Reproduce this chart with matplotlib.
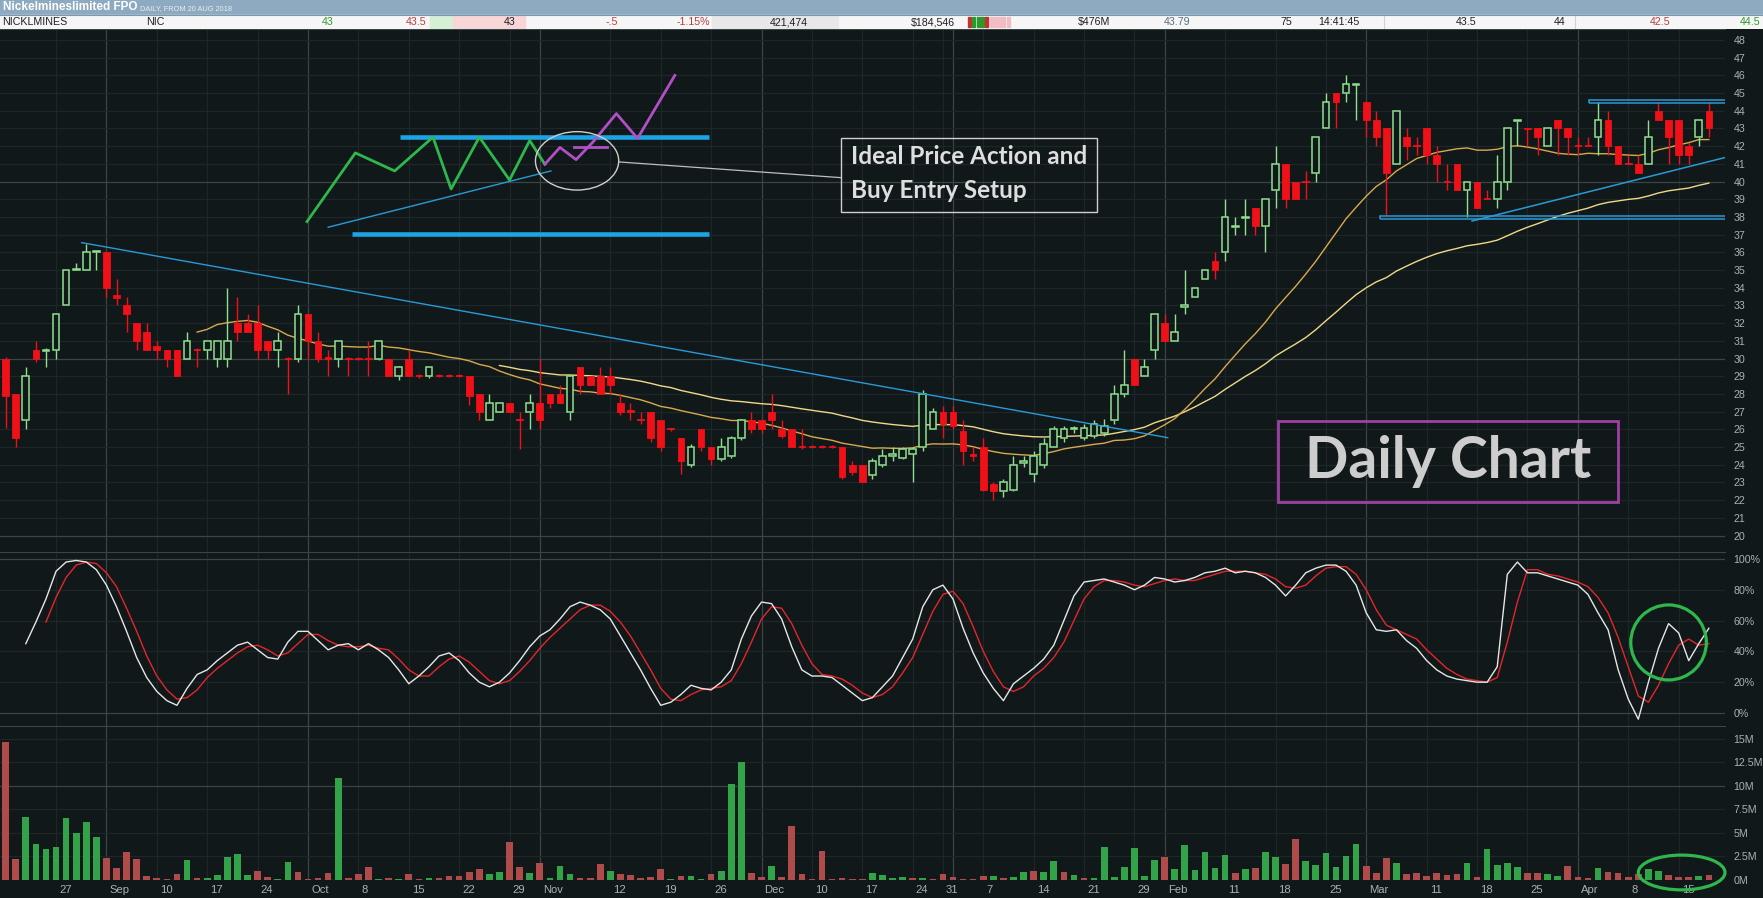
import numpy as np
import pandas as pd
import matplotlib
matplotlib.use('Agg')
import matplotlib.pyplot as plt
from matplotlib.patches import Rectangle, Ellipse
from matplotlib import font_manager

# ---- data ----
holidays = ['2018-12-25', '2018-12-26', '2019-01-01', '2019-01-28']
dates = pd.bdate_range('2018-08-20', '2019-04-18', freq='C', holidays=holidays)

opens = [30.0, 28.0, 26.5, 30.5, 30.4, 30.5, 33.0, 35.0, 35.0, 36.0,
         36.0, 33.6, 33.0, 32.0, 31.5, 30.7, 30.5, 30.5, 30.0, 30.55,
         30.5, 30.0, 30.0, 32.0, 32.0, 32.0, 31.0, 30.5, 30.05, 30.0,
         32.5, 31.0, 30.1, 30.0, 30.05, 30.05, 30.05, 30.0, 30.0, 29.0,
         30.0, 29.05, 29.0, 29.05, 29.05, 29.05, 29.0, 28.0, 26.5, 27.0,
         27.5, 26.6, 27.0, 27.5, 28.0, 28.0, 27.0, 29.5, 29.0, 29.0,
         29.0, 27.5, 27.1, 26.6, 27.0, 26.5, 26.05, 25.5, 24.0, 26.0,
         25.0, 24.3, 24.5, 25.5, 26.5, 26.5, 27.0, 26.0, 26.0, 25.05,
         25.05, 25.05, 25.05, 25.0, 24.0, 24.0, 23.4, 24.0, 24.5, 24.4,
         24.6, 25.0, 26.0, 27.0, 27.0, 25.9, 24.6, 25.0, 22.9, 22.5,
         22.6, 24.1, 23.5, 24.0, 25.0, 25.5, 26.0, 25.5, 25.6, 25.8,
         26.5, 28.0, 30.0, 29.0, 30.5, 32.0, 31.0, 32.9, 33.5, 34.5,
         35.5, 36.0, 37.45, 37.95, 38.5, 37.5, 39.5, 41.0, 40.0, 40.05,
         40.5, 43.0, 45.0, 45.0, 45.45, 44.5, 43.5, 43.0, 41.0, 42.5,
         42.05, 43.0, 41.5, 40.05, 41.0, 39.5, 40.0, 39.05, 39.0, 40.0,
         43.45, 43.0, 43.0, 42.0, 43.5, 43.0, 42.05, 42.05, 42.5, 43.5,
         42.0, 41.05, 41.0, 41.0, 44.0, 43.5, 43.5, 42.0, 42.5, 44.0]
highs = [30.1, 28.0, 29.5, 31.0, 30.6, 32.5, 35.0, 35.4, 36.5, 36.05,
         36.0, 34.5, 33.5, 32.0, 32.0, 31.0, 30.5, 30.5, 31.5, 30.6,
         31.0, 31.0, 34.0, 33.5, 32.5, 33.0, 31.0, 31.5, 30.1, 33.0,
         32.5, 31.5, 30.5, 31.0, 30.1, 30.1, 31.0, 31.0, 30.0, 29.6,
         30.5, 29.1, 29.5, 29.1, 29.1, 29.1, 29.0, 28.0, 28.0, 27.5,
         27.5, 27.0, 28.0, 30.0, 28.0, 28.5, 29.0, 29.5, 29.0, 29.5,
         29.5, 28.0, 27.5, 27.0, 27.0, 26.5, 26.1, 25.5, 25.2, 26.0,
         25.0, 25.5, 25.6, 26.6, 27.0, 26.6, 28.0, 26.5, 26.0, 26.0,
         25.1, 25.1, 25.1, 25.0, 24.2, 24.0, 24.4, 24.9, 25.0, 25.0,
         25.0, 28.2, 27.2, 27.3, 27.3, 26.5, 25.0, 25.5, 23.0, 23.2,
         24.5, 24.5, 24.8, 25.5, 26.2, 26.2, 26.2, 26.3, 26.5, 26.6,
         28.5, 30.5, 30.0, 30.0, 32.5, 32.5, 32.5, 35.0, 34.0, 35.0,
         36.0, 39.0, 38.0, 39.0, 38.5, 39.0, 42.0, 41.0, 40.0, 40.6,
         42.5, 45.0, 45.0, 46.0, 45.5, 44.5, 44.0, 43.0, 44.0, 43.0,
         42.5, 43.0, 42.0, 41.0, 41.0, 40.0, 40.0, 39.5, 41.5, 43.0,
         43.5, 43.0, 43.0, 43.0, 43.5, 43.0, 42.5, 42.5, 44.5, 44.0,
         42.0, 41.5, 41.5, 43.5, 44.5, 43.5, 43.5, 42.2, 43.5, 44.5]
lows = [26.1, 25.0, 26.0, 29.8, 29.5, 30.0, 33.0, 35.0, 35.0, 35.0,
        33.5, 33.0, 31.5, 30.5, 30.5, 30.0, 29.5, 29.0, 30.0, 29.5,
        30.0, 29.5, 29.5, 31.0, 31.5, 30.0, 30.0, 29.5, 28.0, 29.8,
        30.0, 29.8, 29.0, 29.5, 29.0, 29.9, 29.0, 29.9, 29.0, 28.8,
        29.0, 28.9, 28.9, 28.95, 28.95, 28.95, 27.4, 26.5, 26.5, 27.0,
        27.0, 24.9, 26.0, 26.0, 27.2, 27.5, 26.5, 28.0, 28.5, 28.0,
        28.0, 26.8, 26.5, 26.3, 25.3, 24.8, 25.9, 23.5, 23.9, 24.8,
        24.0, 24.2, 24.4, 25.4, 25.8, 25.8, 26.0, 25.5, 25.0, 24.9,
        24.95, 24.95, 24.95, 23.2, 23.4, 23.0, 23.2, 23.9, 24.2, 24.3,
        23.0, 24.8, 26.0, 25.5, 26.0, 24.0, 24.2, 22.5, 22.0, 22.2,
        22.5, 23.9, 23.0, 23.8, 25.0, 25.3, 25.8, 25.4, 25.5, 25.6,
        26.3, 27.8, 28.5, 29.0, 30.0, 31.0, 31.0, 32.5, 33.5, 34.5,
        34.5, 35.5, 37.0, 37.0, 37.0, 36.0, 38.5, 38.5, 39.0, 39.0,
        40.0, 43.0, 43.0, 44.5, 43.5, 42.5, 42.0, 38.1, 41.0, 41.2,
        41.5, 41.0, 40.0, 39.5, 39.5, 38.0, 38.5, 39.0, 38.5, 39.5,
        42.0, 42.0, 41.5, 42.0, 41.5, 41.5, 41.5, 42.0, 41.5, 41.5,
        41.0, 41.0, 40.5, 41.0, 43.5, 41.0, 41.0, 41.0, 42.0, 42.5]
closes = [27.9, 25.5, 29.0, 30.0, 30.5, 32.5, 35.0, 35.05, 36.0, 36.05,
          34.0, 33.4, 32.5, 31.0, 30.5, 30.5, 30.0, 29.0, 31.0, 30.5,
          31.0, 31.0, 31.0, 31.5, 31.5, 30.5, 30.5, 31.0, 30.0, 32.5,
          31.0, 30.0, 30.0, 31.0, 30.0, 30.0, 30.0, 31.0, 29.0, 29.5,
          29.0, 29.0, 29.5, 29.0, 29.0, 29.0, 27.9, 27.0, 27.5, 27.5,
          27.0, 26.5, 27.5, 26.5, 27.5, 27.5, 29.0, 28.5, 28.5, 28.0,
          28.5, 27.0, 27.0, 26.5, 25.5, 25.0, 26.0, 24.2, 25.0, 25.0,
          24.3, 25.0, 25.5, 26.5, 26.0, 26.0, 26.5, 25.6, 25.0, 25.0,
          25.0, 25.0, 25.0, 23.3, 23.6, 23.0, 24.2, 24.5, 24.6, 24.9,
          24.9, 28.0, 27.0, 26.3, 26.2, 24.8, 24.5, 22.6, 22.5, 23.0,
          24.0, 24.2, 24.5, 25.2, 26.0, 26.0, 26.05, 26.1, 26.3, 26.2,
          28.0, 28.5, 28.5, 29.5, 32.5, 31.0, 31.5, 33.0, 34.0, 35.0,
          35.0, 38.0, 37.5, 38.0, 37.5, 39.0, 41.0, 39.0, 39.0, 40.0,
          42.5, 44.5, 44.5, 45.5, 45.5, 43.5, 42.5, 40.5, 44.0, 42.0,
          42.0, 41.5, 41.0, 40.0, 39.5, 40.0, 38.5, 39.0, 40.0, 43.0,
          43.5, 42.95, 42.5, 43.0, 43.0, 42.5, 42.0, 42.0, 43.5, 42.0,
          41.0, 41.0, 40.5, 42.5, 43.5, 42.5, 41.5, 41.5, 43.5, 43.0]

# volume in millions, bar colour as shown (u = green, d = red)
volume = [14.7, 2.26, 6.7, 3.8, 3.3, 3.5, 6.6, 5.0, 6.2, 4.6,
          2.3, 1.3, 3.0, 2.2, 0.45, 0.17, 0.14, 0.6, 2.1, 0.24,
          0.24, 0.5, 2.4, 2.75, 0.55, 1.0, 0.35, 0.14, 1.9, 0.87,
          0.14, 0.24, 0.7, 10.8, 0.24, 0.6, 1.4, 0.14, 0.24, 0.14,
          0.6, 0.14, 0.24, 0.24, 0.38, 0.38, 0.8, 1.2, 0.66, 0.87,
          4.0, 1.4, 0.77, 1.8, 0.24, 1.5, 0.66, 0.24, 0.24, 1.7,
          0.94, 0.66, 0.55, 0.24, 0.35, 1.2, 0.14, 0.45, 0.45, 0.14,
          0.66, 1.0, 10.2, 12.5, 0.77, 0.35, 1.5, 0.35, 5.7, 0.66,
          0.14, 3.1, 0.14, 0.24, 0.14, 0.14, 0.77, 0.55, 0.24, 0.35,
          0.24, 0.24, 0.14, 0.66, 0.35, 0.14, 0.14, 0.45, 0.45, 0.24,
          0.35, 0.87, 1.0, 0.87, 2.0, 0.87, 0.55, 0.24, 0.24, 3.5,
          0.35, 1.4, 3.4, 0.45, 2.1, 2.45, 1.2, 3.7, 1.1, 3.0,
          1.3, 2.65, 0.77, 1.2, 1.3, 3.0, 2.45, 1.7, 4.35, 2.0,
          1.6, 2.85, 1.4, 2.55, 3.8, 1.5, 0.77, 2.35, 1.8, 0.66,
          0.77, 0.45, 0.77, 0.55, 0.66, 1.8, 0.35, 3.3, 1.6, 1.8,
          1.4, 0.77, 0.77, 0.66, 0.45, 1.5, 0.35, 0.24, 1.3, 0.87,
          0.77, 0.35, 0.66, 1.2, 1.0, 0.55, 0.35, 0.35, 0.45, 0.55]
vol_dir = ('dduuuuuuuu' 'ddddddddud' 'uuuuudduud' 'dddudddudu'
           'dduddddduu' 'dduduuuddd' 'uddddduduu' 'duuudduddd'
           'dddddduuuu' 'duddddddud' 'uuduududuu' 'uuuuuduuuu'
           'uududuuddu' 'uuuuudddud' 'ddddduduuu' 'udduudddud'
           'ddduudddud')

stoch_k = [None, None, 45, 59, 74, 92, 98, 99, 98, 93,
           83, 69, 53, 36, 23, 14, 8, 5, 16, 25,
           28, 34, 39, 44, 46, 41, 36, 35, 46, 53,
           53, 47, 41, 44, 45, 41, 45, 41, 36, 28,
           19, 24, 30, 37, 39, 34, 26, 20, 17, 20,
           26, 34, 43, 50, 54, 61, 69, 72, 70, 67,
           61, 50, 39, 28, 16, 5, 7, 12, 18, 16,
           15, 20, 28, 48, 63, 72, 71, 61, 43, 28,
           24, 24, 23, 18, 13, 8, 10, 17, 24, 36,
           48, 69, 80, 83, 74, 55, 39, 26, 16, 8,
           19, 24, 29, 35, 44, 60, 76, 85, 86, 87,
           85, 83, 80, 83, 88, 87, 85, 86, 88, 91,
           92, 94, 91, 92, 91, 88, 83, 76, 83, 91,
           94, 96, 96, 92, 83, 65, 54, 53, 54, 47,
           42, 34, 28, 24, 22, 21, 20, 20, 30, 90,
           98, 91, 91, 89, 87, 85, 83, 77, 65, 54,
           28, 9, -4, 20, 42, 58, 52, 34, 45, 55]
stoch_d = [None, None, None, None, 59, 75, 88, 96, 98, 97,
           91, 82, 68, 53, 37, 24, 15, 9, 10, 15,
           23, 29, 34, 39, 43, 44, 41, 37, 39, 45,
           51, 51, 47, 44, 43, 43, 44, 42, 41, 35,
           28, 24, 24, 30, 35, 37, 33, 27, 21, 19,
           21, 27, 34, 42, 49, 55, 61, 67, 70, 70,
           66, 59, 50, 39, 28, 16, 9, 8, 12, 15,
           16, 17, 21, 32, 46, 61, 69, 68, 58, 44,
           32, 25, 24, 22, 18, 13, 10, 12, 17, 26,
           36, 51, 66, 77, 79, 71, 56, 40, 27, 17,
           14, 17, 24, 29, 36, 46, 60, 74, 82, 86,
           86, 85, 83, 82, 84, 86, 87, 86, 86, 88,
           90, 92, 92, 92, 91, 90, 87, 82, 81, 83,
           89, 94, 95, 95, 90, 80, 67, 57, 54, 51,
           48, 41, 35, 29, 25, 22, 21, 20, 23, 46,
           72, 93, 93, 90, 89, 87, 85, 82, 75, 65,
           49, 30, 11, 7, 18, 32, 44, 48, 44, 45]

tick_days = ['2018-08-27', '2018-09-03', '2018-09-10', '2018-09-17', '2018-09-24',
             '2018-10-01', '2018-10-08', '2018-10-15', '2018-10-22', '2018-10-29',
             '2018-11-01', '2018-11-12', '2018-11-19', '2018-11-26', '2018-12-03',
             '2018-12-10', '2018-12-17', '2018-12-24', '2018-12-31', '2019-01-07',
             '2019-01-14', '2019-01-21', '2019-01-29', '2019-02-01', '2019-02-11',
             '2019-02-18', '2019-02-25', '2019-03-01', '2019-03-11', '2019-03-18',
             '2019-03-25', '2019-04-01', '2019-04-08', '2019-04-15']
tick_text = ['27', 'Sep', '10', '17', '24', 'Oct', '8', '15', '22', '29',
             'Nov', '12', '19', '26', 'Dec', '10', '17', '24', '31', '7',
             '14', '21', '29', 'Feb', '11', '18', '25', 'Mar', '11', '18',
             '25', 'Apr', '8', '15']
month_days = ['2018-09-03', '2018-10-01', '2018-11-01', '2018-12-03',
              '2019-01-02', '2019-02-01', '2019-03-01', '2019-04-01']

# ---- styling ----
BG = '#111819'
GRID = '#1d2729'
GRID_MAJ = '#3a4547'
UP = '#8fe08f'
DN = '#f01018'
VUP = '#33a34a'
VDN = '#b04b4b'
LBL = '#a9b1b1'

names = {f.name for f in font_manager.fontManager.ttflist}
if 'Liberation Sans Narrow' in names:
    NARROW, k = 'Liberation Sans Narrow', 1.0
else:
    NARROW, k = 'Liberation Sans', 0.85
plt.rcParams['font.family'] = [NARROW, 'DejaVu Sans']

W, H = 1763, 898
fig = plt.figure(figsize=(W / 100, H / 100), dpi=100)
fig.patch.set_facecolor(BG)


def pane(top, bottom):
    a = fig.add_axes([0, 1 - bottom / H, 1725 / W, (bottom - top) / H])
    a.set_facecolor(BG)
    for s in a.spines.values():
        s.set_visible(False)
    a.spines['top'].set_visible(True)
    a.spines['top'].set_color(GRID_MAJ)
    a.set_xlim(-0.56, 170.6)
    a.yaxis.tick_right()
    a.tick_params(axis='y', length=0, pad=6, labelsize=9 * k, labelcolor=LBL)
    a.tick_params(axis='x', length=0, labelbottom=False)
    return a


ax = pane(29, 552)
sax = pane(552, 726)
vax = pane(726, 880)

x = np.arange(len(dates))
tick_pos = dates.get_indexer(pd.to_datetime(tick_days))
month_pos = dates.get_indexer(pd.to_datetime(month_days))
for a in (ax, sax, vax):
    for p in tick_pos:
        if p not in month_pos:
            a.axvline(p, color=GRID, lw=0.9, zorder=0)
    for p in month_pos:
        a.axvline(p, color=GRID_MAJ, lw=0.9, zorder=0)

# ---- price pane ----
ax.set_ylim(19.07, 48.62)
ax.set_yticks(range(20, 49))
for p in range(20, 49):
    ax.axhline(p, color=GRID_MAJ if p % 10 == 0 else GRID, lw=0.9, zorder=0)

o = np.array(opens); h = np.array(highs); l = np.array(lows); c = np.array(closes)
up = c >= o
lo = np.minimum(o, c); hi = np.maximum(o, c)
ht = np.maximum(hi - lo, 0.04)

cs = pd.Series(closes)
sma20 = cs.rolling(20).mean()
ema50 = cs.ewm(span=50, adjust=False, min_periods=50).mean()
ax.plot(x, ema50, color='#efd98a', lw=1.0, zorder=2)
ax.plot(x, sma20, color='#d9a94e', lw=1.0, zorder=2)

ax.vlines(x[up], hi[up], h[up], color=UP, lw=1.0, zorder=3)
ax.vlines(x[up], l[up], lo[up], color=UP, lw=1.0, zorder=3)
ax.vlines(x[~up], l[~up], h[~up], color=DN, lw=1.0, zorder=3)
ax.bar(x[up], ht[up], bottom=lo[up], width=0.66, facecolor=BG,
       edgecolor=UP, lw=1.1, zorder=4)
ax.bar(x[~up], ht[~up], bottom=lo[~up], width=0.66, facecolor=DN,
       edgecolor=DN, lw=0.6, zorder=4)

# trend lines and levels drawn on the chart
BLUE = '#2a9ad6'
ax.plot([7.55, 115.3], [36.55, 25.53], color=BLUE, lw=1.0, zorder=5)
ax.plot([145.5, 170.9], [37.77, 41.4], color=BLUE, lw=1.1, zorder=5)
ax.add_patch(Rectangle((157.1, 44.42), 20, 0.19, fill=False, ec=BLUE, lw=1.1, zorder=5))
ax.add_patch(Rectangle((136.4, 37.87), 40, 0.18, fill=False, ec=BLUE, lw=1.1, zorder=5))

# ideal setup sketch
ax.plot([39.1, 69.8], [42.5, 42.5], color='#1ba3e4', lw=3.3, solid_capstyle='butt', zorder=5)
ax.plot([34.4, 69.8], [37.04, 37.04], color='#1ba3e4', lw=3.3, solid_capstyle='butt', zorder=5)
ax.plot([32.0, 54.1], [37.42, 40.6], color=BLUE, lw=1.0, zorder=5)
gx = [29.9, 34.7, 38.6, 42.4, 44.2, 47.0, 50.0, 52.0, 53.5]
gy = [37.74, 41.62, 40.60, 42.51, 39.58, 42.51, 40.09, 42.32, 40.98]
ax.plot(gx, gy, color='#2fb64c', lw=2.0, zorder=6)
px = [53.5, 55.0, 56.6, 58.3, 60.6, 62.7, 66.4]
py = [40.98, 41.93, 41.24, 42.25, 43.84, 42.44, 46.0]
ax.plot(px, py, color='#b14fc6', lw=2.0, zorder=6)
ax.plot([56.4, 59.7], [41.93, 41.93], color='#b14fc6', lw=2.0, zorder=6)
ax.add_patch(Ellipse((56.7, 41.17), 8.26, 3.3, fill=False, ec='#cfcfcf', lw=1.0, zorder=7))
ax.plot([60.83, 82.9], [41.11, 40.22], color='#bfbfbf', lw=0.9, zorder=5)
ax.add_patch(Rectangle((82.9, 38.3), 25.4, 4.16, fill=False, ec='#cfcfcf', lw=1.0, zorder=7))
ax.text(83.9, 41.39, 'Ideal Price Action and', family='Lato', weight='bold',
        fontsize=17.5, color='#dedede', va='center', ha='left', zorder=8)
ax.text(83.9, 39.47, 'Buy Entry Setup', family='Lato', weight='bold',
        fontsize=17.5, color='#dedede', va='center', ha='left', zorder=8)

ax.add_patch(Rectangle((126.2, 21.9), 33.8, 4.57, fill=False, ec='#a03fa6', lw=2.0, zorder=7))
ax.text(143.1, 24.2, 'Daily Chart', family='Lato', weight='bold', fontsize=41,
        color='#cdcdcd', ha='center', va='center', zorder=8)

# ---- stochastic pane ----
sax.set_ylim(-8.44, 104.5)
sax.set_yticks(range(0, 101, 20))
sax.set_yticklabels([f'{v}%' for v in range(0, 101, 20)])
for v in range(0, 101, 20):
    sax.axhline(v, color=GRID_MAJ if v in (0, 100) else GRID, lw=0.9, zorder=0)
kk = np.array([np.nan if v is None else v for v in stoch_k], dtype=float)
dd = np.array([np.nan if v is None else v for v in stoch_d], dtype=float)
sax.plot(x, dd, color='#e3262b', lw=1.0, zorder=3)
sax.plot(x, kk, color='#e6e6e6', lw=1.0, zorder=4)
sax.add_patch(Ellipse((165.0, 45.8), 7.5, 48.7, fill=False, ec='#2fb64c', lw=2.3,
                      zorder=6, clip_on=False))

# ---- volume pane ----
vax.set_ylim(0, 16.38)
vt = [0, 2.5, 5, 7.5, 10, 12.5, 15]
vax.set_yticks(vt)
vax.set_yticklabels(['0M', '2.5M', '5M', '7.5M', '10M', '12.5M', '15M'])
for v in vt:
    vax.axhline(v, color=GRID_MAJ if v in (0, 10) else GRID, lw=0.9, zorder=0)
vcol = [VUP if d == 'u' else VDN for d in vol_dir]
vax.bar(x, volume, width=0.66, color=vcol, zorder=3)
vax.add_patch(Ellipse((166.3, 0.8), 8.6, 3.7, fill=False, ec='#2fb64c', lw=2.3,
                      zorder=6, clip_on=False))
for p, t in zip(tick_pos, tick_text):
    vax.text(p + 0.3, -0.03, t, transform=vax.get_xaxis_transform(), ha='left',
             va='top', fontsize=9.5 * k, color=LBL, zorder=1)

# ---- header strip ----
hd = fig.add_axes([0, 1 - 29 / H, 1, 29 / H])
hd.set_xlim(0, W)
hd.set_ylim(29, 0)
hd.axis('off')
hd.add_patch(Rectangle((0, 0), W, 15, color='#8eaac0'))
hd.add_patch(Rectangle((0, 15), W, 14, color='#f6f6f6'))
hd.add_patch(Rectangle((430, 15.5), 23, 13, color='#d6f0d6'))
hd.add_patch(Rectangle((453, 15.5), 72, 13, color='#f8d6d8'))
hd.add_patch(Rectangle((712, 15.5), 126, 13, color='#e8e8e8'))
spark = ['#c53030', '#2a9a2a', '#2a9a2a', '#2a9a2a', '#c53030',
         '#f2bcc4', '#f2bcc4', '#f2bcc4', '#f2bcc4', '#f2bcc4']
for i, sc in enumerate(spark):
    hd.add_patch(Rectangle((968 + i * 4.3, 17), 3, 10, color=sc))
for sx in (1384, 1575):
    hd.plot([sx, sx], [15, 29], color='#d2d2d2', lw=0.8)
hd.plot([0, W], [15, 15], color='#7d97ab', lw=0.8)
hd.text(3, 7.5, 'Nickelmineslimited FPO', fontsize=10 * k, weight='bold',
        color='white', va='center', ha='left')
hd.text(140, 8.2, 'DAILY, FROM 20 AUG 2018', fontsize=6.3 * k, color='#e6eef4',
        va='center', ha='left')
row = [('NICKLMINES', 2, 'left', '#202020'), ('NIC', 146, 'left', '#202020'),
       ('43', 334, 'right', '#2f9a2f'), ('43.5', 426, 'right', '#b84040'),
       ('43', 516, 'right', '#202020'), ('-.5', 618, 'right', '#b84040'),
       ('-1.15%', 710, 'right', '#b84040'), ('421,474', 808, 'right', '#202020'),
       ('$184,546', 955, 'right', '#202020'), ('$476M', 1110, 'right', '#202020'),
       ('43.79', 1190, 'right', '#5a7088'), ('75', 1292, 'right', '#202020'),
       ('14:41:45', 1359, 'right', '#202020'), ('43.5', 1476, 'right', '#202020'),
       ('44', 1566, 'right', '#202020'), ('42.5', 1670, 'right', '#b84040'),
       ('44.5', 1760, 'right', '#2f9a2f')]
for t, tx, al, col in row:
    hd.text(tx, 22.3, t, fontsize=9 * k, color=col, ha=al, va='center')

fig.savefig('out.png', dpi=100, facecolor=BG)
